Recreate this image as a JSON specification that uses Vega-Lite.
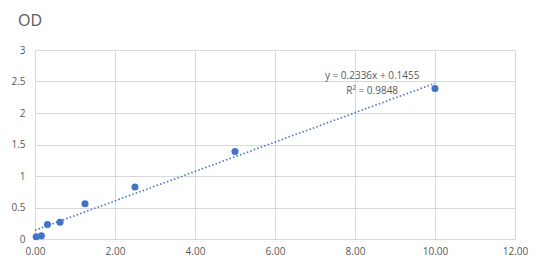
{
  "$schema": "https://vega.github.io/schema/vega-lite/v6.json",
  "width": 480,
  "height": 189,
  "autosize": {"type": "none"},
  "padding": {"left": 35, "top": 50, "right": 30, "bottom": 32},
  "background": "white",
  "title": {"text": "OD", "anchor": "start", "frame": "group", "dx": -17, "offset": 16, "fontSize": 16, "font": "Open Sans", "fontWeight": "normal", "color": "#595959"},
  "config": {
    "view": {"stroke": null},
    "axis": {"labelFont": "Open Sans", "labelFontSize": 10, "labelColor": "#595959", "gridColor": "#d9d9d9", "gridWidth": 1, "domain": false, "ticks": false, "title": null, "labelOverlap": false, "labelFlush": false}
  },
  "datasets": {
    "pts": [
      {"conc": 0.03, "od": 0.037},
      {"conc": 0.16, "od": 0.05},
      {"conc": 0.3125, "od": 0.23},
      {"conc": 0.625, "od": 0.265},
      {"conc": 1.25, "od": 0.56},
      {"conc": 2.5, "od": 0.825},
      {"conc": 5, "od": 1.39},
      {"conc": 10, "od": 2.39}
    ],
    "labels": [
      {"conc": 8.43, "od": 2.59, "label": "y = 0.2336x + 0.1455"},
      {"conc": 8.43, "od": 2.35, "label": "R² = 0.9848"}
    ]
  },
  "encoding": {
    "x": {"field": "conc", "type": "quantitative", "scale": {"domain": [0, 12], "nice": false}, "axis": {"values": [0, 2, 4, 6, 8, 10, 12], "format": ".2f", "labelPadding": 7, "tickCount": 20}},
    "y": {"field": "od", "type": "quantitative", "scale": {"domain": [0, 3], "nice": false}, "axis": {"values": [0, 0.5, 1, 1.5, 2, 2.5, 3], "format": ".1~f", "labelPadding": 10, "tickCount": 20}}
  },
  "layer": [
    {
      "data": {"name": "pts"},
      "transform": [{"regression": "od", "on": "conc", "extent": [0, 10]}],
      "mark": {"type": "line", "color": "#4472c4", "strokeWidth": 1.6, "strokeDash": [1.5, 2.2]}
    },
    {
      "data": {"name": "pts"},
      "mark": {"type": "circle", "color": "#4472c4", "opacity": 1, "size": 50}
    },
    {
      "data": {"name": "labels"},
      "mark": {"type": "text", "font": "Open Sans", "fontSize": 10, "color": "#595959", "align": "center", "baseline": "middle"},
      "encoding": {
        "text": {"field": "label"}
      }
    }
  ]
}
